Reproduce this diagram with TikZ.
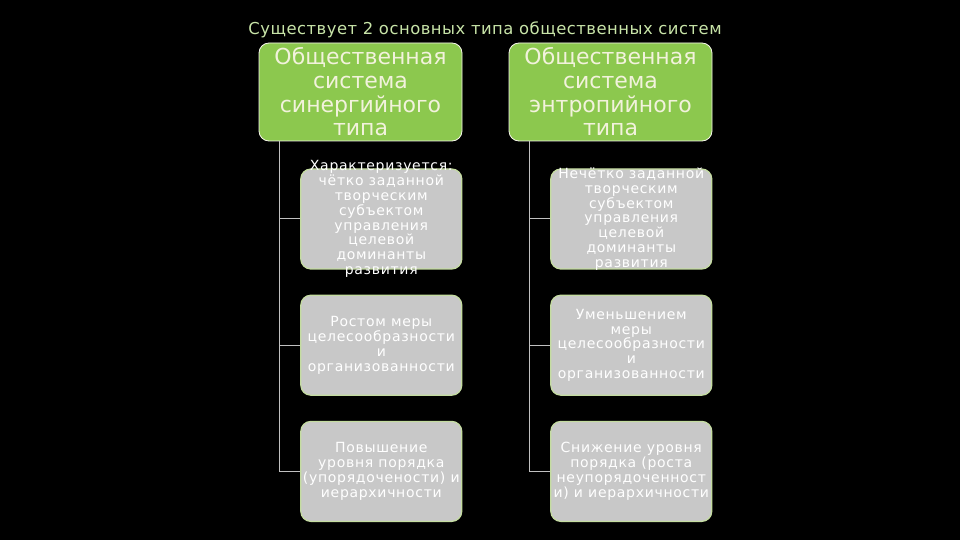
\documentclass[tikz,border=0pt]{standalone}
\usepackage{fontspec}
\setmainfont{DejaVu Sans}
\newfontfamily\leaffont[LetterSpace=5]{DejaVu Sans}
\newfontfamily\titlefont[LetterSpace=3]{DejaVu Sans}
\usetikzlibrary{positioning}
\definecolor{headgreen}{HTML}{8CC84E}
\definecolor{headtext}{HTML}{F2F2DC}
\definecolor{leafgrey}{HTML}{C8C8C8}
\definecolor{leafedge}{HTML}{C4DCA0}
\definecolor{titlegreen}{HTML}{C8E4A8}
\definecolor{branchgrey}{HTML}{C0C0C0}
\tikzstyle{head}     = [rectangle, rounded corners=5pt, minimum width=101.5pt,
                        minimum height=49pt, draw=headtext!60, fill=headgreen,
                        text=headtext, align=center, inner sep=0pt,
                        font=\fontsize{11}{11.8}\selectfont]
\tikzstyle{leaf}     = [rectangle, rounded corners=5pt, minimum width=80.5pt,
                        minimum height=50pt, draw=leafedge, fill=leafgrey,
                        line width=0.6pt]
\tikzstyle{leaftext} = [text=white, align=center, inner sep=0pt,
                        font=\leaffont\fontsize{7}{7.4}\selectfont]
\tikzstyle{branch}   = [draw=branchgrey, line width=0.5pt]

\begin{document}
\begin{tikzpicture}[x=0.5pt, y=-0.5pt]

  \useasboundingbox[fill=black] (0,0) rectangle (960,540);

  %% -- Title --
  \node[text=titlegreen, font=\titlefont\fontsize{8.2}{10}\selectfont] (title) at (485,30)
        {Существует 2 основных типа общественных систем};

  %% -- Headers --
  \node[head] (hdrL) at (360.5,92)
        {Общественная\\система\\синергийного\\типа};
  \node[head] (hdrR) at (610.5,92)
        {Общественная\\система\\энтропийного\\типа};

  %% -- Left column --
  \node[leaf, below left=13.5pt and 0pt of hdrL.south east,
        label={[leaftext]center:{Характеризуется:\\чётко заданной\\творческим\\субъектом\\управления\\целевой\\доминанты\\развития}}] (leafL1) {};
  \node[leaf, below=12.5pt of leafL1,
        label={[leaftext]center:{Ростом меры\\целесообразности\\и\\организованности}}] (leafL2) {};
  \node[leaf, below=12.5pt of leafL2,
        label={[leaftext]center:{Повышение\\уровня порядка\\(упорядочености) и\\иерархичности}}] (leafL3) {};

  %% -- Right column --
  \node[leaf, below left=13.5pt and 0pt of hdrR.south east,
        label={[leaftext]center:{Нечётко заданной\\творческим\\субъектом\\управления\\целевой\\доминанты\\развития}}] (leafR1) {};
  \node[leaf, below=12.5pt of leafR1,
        label={[leaftext]center:{Уменьшением\\меры\\целесообразности\\и\\организованности}}] (leafR2) {};
  \node[leaf, below=12.5pt of leafR2,
        label={[leaftext]center:{Снижение уровня\\порядка (роста\\неупорядоченност\\и) и иерархичности}}] (leafR3) {};

  %% -- Branches --
  \draw[branch] ([xshift=10.5pt]hdrL.south west) |- (leafL1.west);
  \draw[branch] ([xshift=10.5pt]hdrL.south west) |- (leafL2.west);
  \draw[branch] ([xshift=10.5pt]hdrL.south west) |- (leafL3.west);
  \draw[branch] ([xshift=10.5pt]hdrR.south west) |- (leafR1.west);
  \draw[branch] ([xshift=10.5pt]hdrR.south west) |- (leafR2.west);
  \draw[branch] ([xshift=10.5pt]hdrR.south west) |- (leafR3.west);

\end{tikzpicture}
\end{document}
